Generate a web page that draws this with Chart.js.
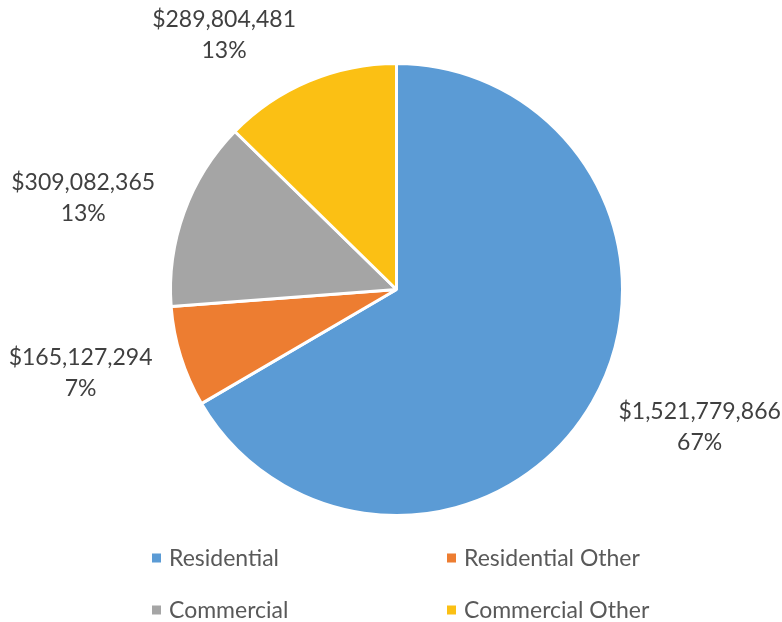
<!DOCTYPE html>
<html>
<head>
<meta charset="utf-8">
<script src="https://cdn.jsdelivr.net/npm/chart.js@4/dist/chart.umd.min.js"></script>
<style>
  html, body { margin: 0; padding: 0; background: #ffffff; }
  #wrap { width: 782px; height: 622px; position: relative; }
</style>
</head>
<body>
<div id="wrap"><canvas id="chart"></canvas></div>
<script>
const categories = ['Residential', 'Residential Other', 'Commercial', 'Commercial Other'];
const amounts = [1521779866, 165127294, 309082365, 289804481];
const percentLabels = ['67%', '7%', '13%', '13%'];
const colours = ['#5B9BD5', '#ED7D31', '#A5A5A5', '#FBC014'];

const FONT = 'Lato, "Open Sans", sans-serif';

// small nudges so labels sit roughly where Excel's best-fit put them
const labelNudge = [[28, 5], [-22, 4], [-24, 0], [-53, -8]];

const money = v => '$' + v.toLocaleString('en-US');

const outsideLabels = {
  id: 'outsideLabels',
  afterDatasetsDraw(chart) {
    const ctx = chart.ctx;
    const meta = chart.getDatasetMeta(0);
    ctx.save();
    ctx.font = '23px ' + FONT;
    ctx.fillStyle = '#404040';
    ctx.textAlign = 'center';
    ctx.textBaseline = 'middle';
    meta.data.forEach((arc, i) => {
      const mid = (arc.startAngle + arc.endAngle) / 2;
      const ux = Math.cos(mid), uy = Math.sin(mid);
      const r = arc.outerRadius + 10;
      const line1 = money(amounts[i]);
      const w = ctx.measureText(line1).width;
      const h = 62;
      const cx = arc.x + ux * r + ux * w / 2 + labelNudge[i][0];
      const cy = arc.y + uy * r + uy * h / 2 + labelNudge[i][1];
      ctx.fillText(line1, cx, cy - 15.5);
      ctx.fillText(percentLabels[i], cx, cy + 15.5);
    });
    ctx.restore();
  }
};

const gridLegend = {
  id: 'gridLegend',
  afterDraw(chart) {
    const ctx = chart.ctx;
    const cols = [152, 447];
    const rows = [558, 610];
    ctx.save();
    ctx.font = '23px ' + FONT;
    ctx.textBaseline = 'middle';
    categories.forEach((name, i) => {
      const x = cols[i % 2];
      const y = rows[Math.floor(i / 2)];
      ctx.fillStyle = colours[i];
      ctx.fillRect(x, y - 4.5, 9, 9);
      ctx.fillStyle = '#595959';
      ctx.fillText(name, x + 17, y + 1);
    });
    ctx.restore();
  }
};

new Chart(document.getElementById('chart'), {
  type: 'pie',
  data: {
    labels: categories,
    datasets: [{
      data: amounts,
      backgroundColor: colours,
      borderColor: '#ffffff',
      borderWidth: 3
    }]
  },
  options: {
    responsive: true,
    maintainAspectRatio: false,
    animation: false,
    layout: { padding: { top: 62, bottom: 105, left: 169, right: 158 } },
    plugins: {
      legend: { display: false },
      tooltip: { enabled: false }
    }
  },
  plugins: [outsideLabels, gridLegend]
});
</script>
</body>
</html>
